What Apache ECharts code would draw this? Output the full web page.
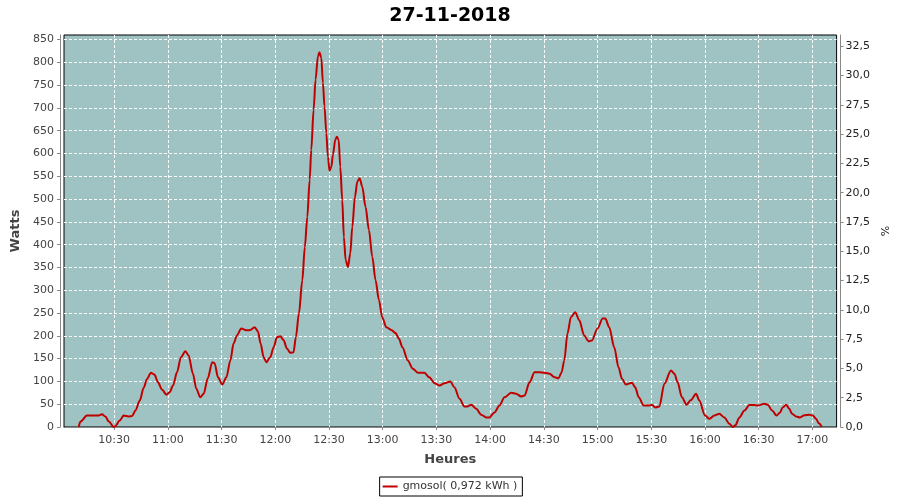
<!DOCTYPE html>
<html>
<head>
<meta charset="utf-8">
<script src="https://cdn.jsdelivr.net/npm/echarts@6/dist/echarts.min.js"></script>
<style>html,body{margin:0;padding:0;background:#fff}#c{width:900px;height:500px}</style>
</head>
<body>
<div id="c"></div>
<script>
const titleText = '27-11-2018';
const seriesName = 'gmosol( 0,972 kWh )';
const xName = 'Heures';
const yName = 'Watts';
const y2Name = '%';
const wattsPerPercent = 25.7;

const times = [
 '10:10:12','10:11:12','10:14:48','10:21:24','10:23:12','10:25:06','10:27:00','10:29:48','10:30:42','10:33:06',
 '10:35:18','10:38:06','10:40:00','10:41:54','10:44:18','10:46:30','10:48:18','10:50:36','10:52:30','10:54:30',
 '10:56:42','10:59:12','11:01:00','11:02:54','11:05:06','11:07:18','11:09:48','11:11:36','11:14:00','11:15:54',
 '11:18:06','11:20:00','11:22:18','11:24:48','11:26:06','11:28:00','11:30:24','11:32:42','11:34:54','11:36:42',
 '11:38:36','11:41:00','11:43:48','11:46:06','11:48:30','11:50:18','11:51:48','11:53:30','11:55:00','11:57:12',
 '11:59:06','12:00:54','12:02:48','12:04:36','12:06:30','12:08:24','12:10:12','12:11:30','12:13:12','12:15:06',
 '12:16:30','12:17:54','12:19:12','12:20:06','12:21:24','12:22:30','12:23:48','12:24:42','12:25:42','12:26:36',
 '12:27:30','12:28:30','12:29:24','12:30:18','12:31:18','12:32:12','12:33:30','12:34:24','12:35:24','12:36:18',
 '12:37:24','12:38:18','12:39:18','12:40:36','12:41:54','12:43:00','12:44:30','12:45:48','12:47:06','12:48:36',
 '12:50:24','12:52:18','12:54:12','12:56:00','12:57:54','12:59:42','13:02:00','13:04:48','13:07:12','13:09:00',
 '13:11:00','13:14:00','13:16:48','13:19:36','13:23:18','13:26:00','13:29:00','13:31:42','13:34:30','13:37:48',
 '13:40:00','13:42:54','13:45:36','13:47:30','13:49:24','13:52:12','13:55:00','13:57:48','13:59:36','14:02:24',
 '14:05:12','14:08:00','14:11:42','14:14:30','14:17:18','14:19:12','14:22:00','14:24:48','14:27:36','14:30:24',
 '14:33:12','14:36:00','14:38:12','14:39:54','14:41:24','14:43:12','14:45:06','14:47:30','14:49:48','14:52:30',
 '14:55:00','14:56:48','15:00:00','15:02:48','15:04:18','15:06:30','15:09:18','15:11:42','15:13:36','15:15:48',
 '15:19:12','15:21:00','15:23:00','15:25:42','15:28:30','15:30:24','15:32:12','15:34:30','15:37:18','15:41:00',
 '15:42:54','15:44:42','15:47:06','15:49:42','15:52:06','15:55:00','15:56:48','16:00:00','16:02:24','16:05:12',
 '16:08:00','16:10:48','16:13:36','16:15:30','16:17:00','16:19:12','16:22:00','16:24:48','16:27:36','16:29:24',
 '16:33:12','16:35:00','16:37:30','16:40:00','16:41:54','16:43:24','16:45:18','16:47:06','16:48:36','16:50:54',
 '16:53:06','16:55:30','16:58:18','17:00:12','17:02:00','17:03:36','17:05:12'
];
const watts = [
 0,12,25,25,28,23,12,0,2,14,
 25,23,24,36,58,86,105,119,115,98,
 82,71,76,91,120,153,166,157,117,84,
 65,73,107,142,140,109,93,109,146,183,
 201,216,212,213,219,210,183,153,142,153,
 175,197,199,191,172,163,164,197,249,322,
 395,461,542,608,696,762,813,822,810,755,
 703,645,593,562,571,597,630,637,630,571,
 498,417,366,351,381,439,505,538,546,527,
 483,432,373,322,278,241,219,213,206,194,
 175,146,128,119,119,109,96,91,96,100,
 87,62,45,45,49,40,27,21,21,32,
 47,65,75,73,67,69,98,120,120,119,
 117,109,107,120,146,205,241,252,234,201,
 188,190,216,238,238,219,175,131,106,93,
 97,87,65,47,47,48,43,45,95,124,
 117,98,65,49,59,73,58,25,18,25,
 29,21,7,0,4,21,36,48,48,47,
 51,49,36,25,32,43,49,40,29,23,
 21,26,27,25,18,8,0
];
const xMinTime = '10:02:00';
const xMaxTime = '17:13:30';
const yMax = 860;

function toMin(s){const p=s.split(':').map(Number);return p[0]*60+p[1]+(p[2]||0)/60;}
function fmtHM(v){const h=Math.floor(v/60),m=Math.round(v-h*60);return String(h).padStart(2,'0')+':'+String(m).padStart(2,'0');}

const data = times.map((t,i)=>[toMin(t), watts[i]]);
const font = 'DejaVu Sans';

const chart = echarts.init(document.getElementById('c'), null, {renderer:'canvas'});
chart.setOption({
  animation:false,
  backgroundColor:'#ffffff',
  title:{text:titleText,left:'center',top:2,textStyle:{fontFamily:font,fontSize:19,fontWeight:'bold',color:'#000'}},
  legend:{data:[seriesName],left:'center',top:477,icon:'rect',itemWidth:15,itemHeight:2,
    borderColor:'#000',borderWidth:1,padding:[4,5,4,3],
    textStyle:{fontFamily:font,fontSize:11,color:'#333'}},
  grid:{left:64,top:35,width:773,height:392,show:true,backgroundColor:'#9ec3c2',borderColor:'#000',borderWidth:1},
  xAxis:{type:'value',min:toMin(xMinTime),max:toMin(xMaxTime),minInterval:30,maxInterval:30,splitNumber:14,
    offset:3,name:xName,nameLocation:'middle',nameGap:23,
    nameTextStyle:{fontFamily:font,fontSize:13,fontWeight:'bold',color:'#444'},
    axisLine:{show:true,lineStyle:{color:'#888',width:1}},
    axisTick:{show:true,length:3,lineStyle:{color:'#888'}},
    axisLabel:{formatter:fmtHM,showMinLabel:false,showMaxLabel:false,margin:5,fontFamily:font,fontSize:11,color:'#444'},
    splitLine:{show:true,showMinLine:false,showMaxLine:false,lineStyle:{color:'#fff',type:[3,2],width:1}}},
  yAxis:[
    {type:'value',min:0,max:yMax,interval:50,offset:4,position:'left',
     name:yName,nameLocation:'middle',nameGap:30,
     nameTextStyle:{fontFamily:font,fontSize:13,fontWeight:'bold',color:'#444'},
     axisLine:{show:true,lineStyle:{color:'#888',width:1}},
     axisTick:{show:true,length:3,lineStyle:{color:'#888'}},
     axisLabel:{showMaxLabel:false,margin:6,fontFamily:font,fontSize:11,color:'#444'},
     splitLine:{show:true,showMinLine:false,showMaxLine:false,lineStyle:{color:'#fff',type:[3,2],width:1}}},
    {type:'value',min:0,max:yMax/wattsPerPercent,interval:2.5,offset:4,position:'right',
     name:y2Name,nameLocation:'middle',nameGap:31,
     nameTextStyle:{fontFamily:font,fontSize:11,color:'#222'},
     axisLine:{show:true,lineStyle:{color:'#888',width:1}},
     axisTick:{show:true,length:3,lineStyle:{color:'#888'}},
     axisLabel:{showMaxLabel:false,margin:5,fontFamily:font,fontSize:11,color:'#222',
       formatter:v=>v.toFixed(1).replace('.',',')},
     splitLine:{show:false}}
  ],
  series:[{name:seriesName,type:'line',yAxisIndex:0,data:data,showSymbol:false,
    smooth:0.3,smoothMonotone:'x',lineStyle:{color:'#c00000',width:2},itemStyle:{color:'#c00000'}}]
});
</script>
</body>
</html>
